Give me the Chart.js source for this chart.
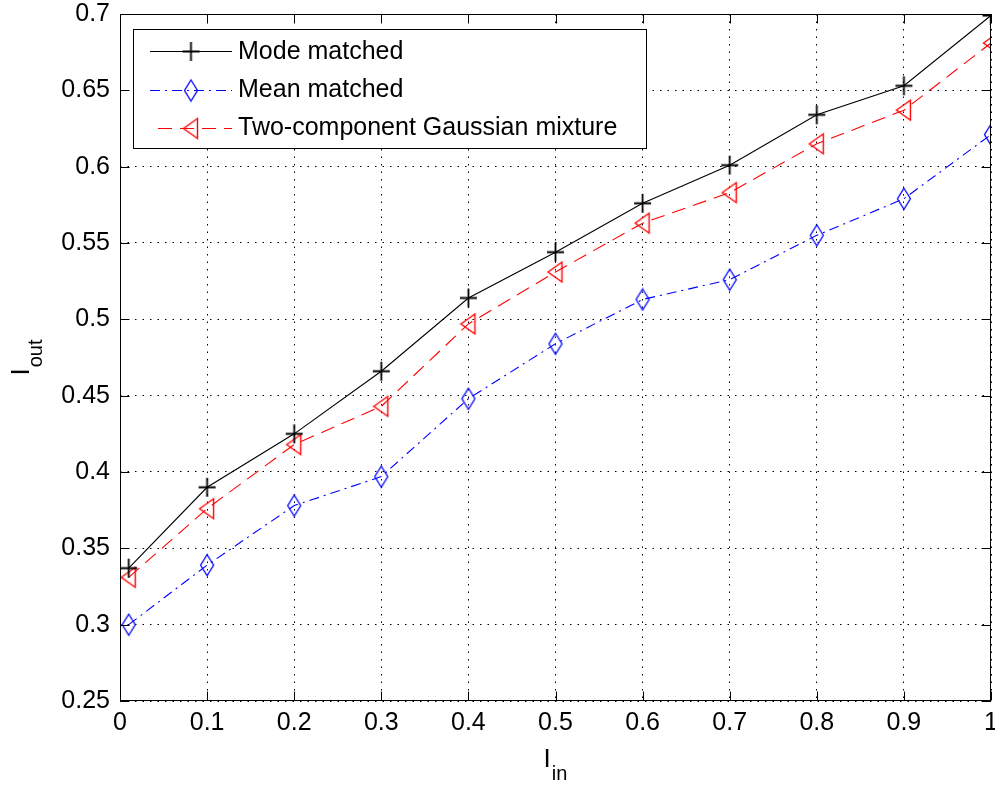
<!DOCTYPE html>
<html>
<head>
<meta charset="utf-8">
<title>I_out vs I_in</title>
<script src="https://cdn.jsdelivr.net/npm/chart.js@4.4.1/dist/chart.umd.min.js"></script>
<style>
  html, body { margin: 0; padding: 0; background: #ffffff; }
  #wrap { width: 995px; height: 786px; }
</style>
</head>
<body>
<div id="wrap"><canvas id="chart" width="995" height="786"></canvas></div>
<script>
// Input intensity samples
const inputLevels = [0.01, 0.1, 0.2, 0.3, 0.4, 0.5, 0.6, 0.7, 0.8, 0.9, 1.0];

// Output intensity for each mapping method
const modeMatched  = [0.337, 0.390, 0.425, 0.466, 0.514, 0.544, 0.576, 0.601, 0.634, 0.653, 0.699];
const meanMatched  = [0.300, 0.339, 0.378, 0.397, 0.448, 0.484, 0.513, 0.526, 0.555, 0.579, 0.621];
const gaussMixture = [0.331, 0.376, 0.418, 0.443, 0.497, 0.531, 0.563, 0.583, 0.615, 0.637, 0.681];

const seriesNames = ['Mode matched', 'Mean matched', 'Two-component Gaussian mixture'];

// Axis ticks
const xTickValues = [0, 0.1, 0.2, 0.3, 0.4, 0.5, 0.6, 0.7, 0.8, 0.9, 1];
const xTickLabels = ['0', '0.1', '0.2', '0.3', '0.4', '0.5', '0.6', '0.7', '0.8', '0.9', '1'];
const yTickValues = [0.25, 0.3, 0.35, 0.4, 0.45, 0.5, 0.55, 0.6, 0.65, 0.7];
const yTickLabels = ['0.25', '0.3', '0.35', '0.4', '0.45', '0.5', '0.55', '0.6', '0.65', '0.7'];

const FONT = '"Liberation Sans", Arial, Helvetica, sans-serif';

// Marker glyphs drawn once onto small canvases
function makeMarker(kind, color) {
  const c = document.createElement('canvas');
  if (kind === 'plus') { c.width = 19; c.height = 21; }
  else if (kind === 'diamond') { c.width = 16; c.height = 24; }
  else { c.width = 18; c.height = 24; }
  const g = c.getContext('2d');
  g.strokeStyle = color;
  g.lineJoin = 'miter';
  g.beginPath();
  if (kind === 'plus') {
    g.lineWidth = 1.8;
    g.moveTo(1, 10.5); g.lineTo(18, 10.5);
    g.moveTo(9.5, 1); g.lineTo(9.5, 20);
  } else if (kind === 'diamond') {
    g.lineWidth = 1.3;
    g.moveTo(8, 1.5); g.lineTo(14.5, 12); g.lineTo(8, 22.5); g.lineTo(1.5, 12);
    g.closePath();
  } else {
    g.lineWidth = 1.4;
    g.moveTo(1.5, 12); g.lineTo(15.5, 2); g.lineTo(15.5, 22);
    g.closePath();
  }
  g.stroke();
  return c;
}

const markers = [
  makeMarker('plus', '#000000'),
  makeMarker('diamond', '#0000ff'),
  makeMarker('triangle', '#ff0000')
];
const colors = ['#000000', '#0000ff', '#ff0000'];
const dashes = [[], [10, 5, 2, 5], [14, 8]];
const values = [modeMatched, meanMatched, gaussMixture];

const datasets = values.map((vals, k) => ({
  label: seriesNames[k],
  data: inputLevels.map((x, i) => ({ x: x, y: vals[i] })),
  borderColor: colors[k],
  backgroundColor: colors[k],
  borderWidth: 1.1,
  borderDash: dashes[k],
  pointStyle: markers[k],
  pointRadius: 9,
  pointHoverRadius: 9,
  tension: 0,
  fill: false
}));

// Frame, inward ticks, legend box and subscripted axis titles
const frameAndLegend = {
  id: 'frameAndLegend',
  afterDraw(chart) {
    const ctx = chart.ctx;
    const a = chart.chartArea;
    const xs = chart.scales.x, ys = chart.scales.y;
    const L = Math.round(a.left) + 0.5, R = Math.round(a.right) - 0.5;
    const T = Math.round(a.top) + 0.5, B = Math.round(a.bottom) - 0.5;
    const tick = 9;

    ctx.save();
    ctx.strokeStyle = '#000000';
    ctx.lineWidth = 1;
    ctx.setLineDash([]);
    ctx.beginPath();
    xTickValues.forEach(v => {
      const px = Math.round(xs.getPixelForValue(v)) + 0.5;
      ctx.moveTo(px, B); ctx.lineTo(px, B - tick);
      ctx.moveTo(px, T); ctx.lineTo(px, T + tick);
    });
    yTickValues.forEach(v => {
      const py = Math.round(ys.getPixelForValue(v)) + 0.5;
      ctx.moveTo(L, py); ctx.lineTo(L + tick, py);
      ctx.moveTo(R, py); ctx.lineTo(R - tick, py);
    });
    ctx.stroke();
    ctx.strokeRect(L, T, R - L, B - T);

    // legend
    const lx = 133.5, ly = 29.5, lw = 513, lh = 119;
    ctx.fillStyle = '#ffffff';
    ctx.fillRect(lx, ly, lw, lh);
    ctx.strokeStyle = '#000000';
    ctx.strokeRect(lx, ly, lw, lh);
    const rowY = [51, 89.5, 127.5];
    ctx.font = '25px ' + FONT;
    ctx.textBaseline = 'middle';
    ctx.textAlign = 'left';
    chart.data.datasets.forEach((ds, k) => {
      const y = Math.round(rowY[k]) + 0.5;
      ctx.strokeStyle = ds.borderColor;
      ctx.lineWidth = 1.1;
      ctx.setLineDash(ds.borderDash);
      ctx.beginPath();
      ctx.moveTo(k === 2 ? 158 : 150, y);
      ctx.lineTo(232, y);
      ctx.stroke();
      ctx.setLineDash([]);
      const m = ds.pointStyle;
      ctx.drawImage(m, 191 - m.width / 2, y - m.height / 2);
      ctx.fillStyle = '#000000';
      ctx.fillText(ds.label, 238, rowY[k] + 1);
    });

    // axis titles with subscripts
    ctx.fillStyle = '#000000';
    ctx.textBaseline = 'alphabetic';
    const drawSub = (main, sub, cx, baseY) => {
      ctx.font = '26px ' + FONT;
      const w1 = ctx.measureText(main).width;
      ctx.font = '20px ' + FONT;
      const w2 = ctx.measureText(sub).width;
      const start = cx - (w1 + 1 + w2) / 2;
      ctx.font = '26px ' + FONT;
      ctx.fillText(main, start, baseY);
      ctx.font = '20px ' + FONT;
      ctx.fillText(sub, start + w1 + 1, baseY + 13);
    };
    drawSub('I', 'in', (a.left + a.right) / 2, 767);
    ctx.save();
    ctx.translate(29, (a.top + a.bottom) / 2);
    ctx.rotate(-Math.PI / 2);
    drawSub('I', 'out', 0, 0);
    ctx.restore();
    ctx.restore();
  }
};

new Chart(document.getElementById('chart'), {
  type: 'line',
  data: { datasets: datasets },
  options: {
    responsive: false,
    animation: false,
    events: [],
    layout: { autoPadding: false, padding: { top: 14, right: 4, left: 0, bottom: 0 } },
    plugins: { legend: { display: false }, tooltip: { enabled: false }, title: { display: false } },
    scales: {
      x: {
        type: 'linear',
        min: 0, max: 1,
        afterBuildTicks: s => { s.ticks = xTickValues.map(v => ({ value: v })); },
        afterFit: s => { s.height = 85; s.paddingLeft = 0; s.paddingRight = 0; },
        ticks: {
          callback: (v, i) => xTickLabels[i],
          font: { family: FONT, size: 25 },
          color: '#000000',
          padding: 7,
          maxRotation: 0,
          autoSkip: false
        },
        grid: { color: '#000000', lineWidth: 1, drawTicks: false },
        border: { display: false, dash: [1.5, 6] }
      },
      y: {
        type: 'linear',
        min: 0.25, max: 0.7,
        afterBuildTicks: s => { s.ticks = yTickValues.map(v => ({ value: v })); },
        afterFit: s => { s.width = 120; s.paddingTop = 0; s.paddingBottom = 0; },
        ticks: {
          callback: (v, i) => yTickLabels[i],
          font: { family: FONT, size: 25 },
          color: '#000000',
          padding: 10,
          autoSkip: false
        },
        grid: { color: '#000000', lineWidth: 1, drawTicks: false },
        border: { display: false, dash: [1.5, 6] }
      }
    }
  },
  plugins: [frameAndLegend]
});
</script>
</body>
</html>
